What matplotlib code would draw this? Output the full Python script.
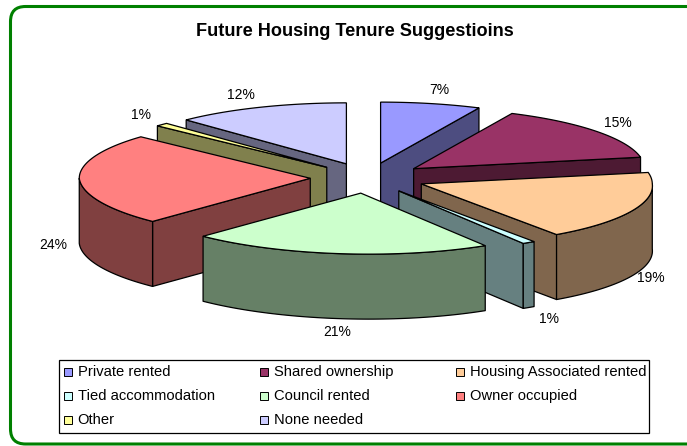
import numpy as np
import matplotlib
matplotlib.use("Agg")
import matplotlib.pyplot as plt
from matplotlib.patches import FancyBboxPatch, Rectangle

plt.rcParams['font.family'] = ['Liberation Sans', 'DejaVu Sans']

# Data (percent shares, labels round them)
categories = ['Private rented', 'Shared ownership', 'Housing Associated rented',
              'Tied accommodation', 'Council rented', 'Owner occupied',
              'Other', 'None needed']
shares = [7.0, 15.0, 18.6, 0.9, 21.0, 24.4, 0.9, 12.2]
colors = ['#9999FF', '#993366', '#FFCC99', '#CCFFFF',
          '#CCFFCC', '#FF8080', '#FFFF99', '#CCCCFF']

# Pie geometry in pixels
cx, cy = 368, 178
rx, ry = 231, 61
depth = 65
explode = 0.25
front_shift = 8   # the front of the ellipse sits a little to the right

# hand nudges for the percent labels
label_nudge_x = [2, -2, -14, 5, 2, 4, 1, -8]

fig = plt.figure(figsize=(6.87, 4.46), dpi=100)
ax = fig.add_axes([0, 0, 1, 1])
ax.set_xlim(0, 687)
ax.set_ylim(446, 0)
ax.axis('off')

# Green rounded frame, runs off the right edge
frame = FancyBboxPatch((10.5, 6.5), 720, 437.5, boxstyle='round,pad=0,rounding_size=15',
                       fc='white', ec='#008000', lw=2.2, zorder=0)
ax.add_patch(frame)


def arc(a, b, ox, oy):
    t = np.radians(np.linspace(a, b, 60))
    return ox + rx * np.sin(t) + front_shift * np.maximum(0, -np.cos(t)), oy - ry * np.cos(t)


def wall(xs, ys, color):
    # extrude a path on the top face straight down
    px = np.concatenate([xs, xs[::-1]])
    py = np.concatenate([ys, ys[::-1] + depth])
    ax.fill(px, py, fc=color, ec='black', lw=0.9, joinstyle='round', zorder=order)


edges = np.concatenate([[0], np.cumsum(shares)]) * 360 / np.sum(shares)
mids = (edges[:-1] + edges[1:]) / 2
draw_order = np.argsort(-np.cos(np.radians(mids)))

for order, i in enumerate(draw_order, start=1):
    a, b = edges[i], edges[i + 1]
    m = np.radians(mids[i])
    ox = cx + explode * rx * np.sin(m)
    oy = cy - explode * ry * np.cos(m)
    dark = np.array(matplotlib.colors.to_rgb(colors[i])) * 0.5
    sx, sy = arc(a, a, ox, oy)
    ex, ey = arc(b, b, ox, oy)
    # radial walls that face the viewer
    if np.sin(np.radians(a)) < -1e-6:
        wall(np.array([ox, sx[0]]), np.array([oy, sy[0]]), dark)
    if np.sin(np.radians(b)) > 1e-6:
        wall(np.array([ox, ex[0]]), np.array([oy, ey[0]]), dark)
    # outer wall, front half only
    lo, hi = max(a, 90), min(b, 270)
    if hi > lo:
        xs, ys = arc(lo, hi, ox, oy)
        wall(xs, ys, dark)
    # top face
    xs, ys = arc(a, b, ox, oy)
    ax.fill(np.r_[ox, xs], np.r_[oy, ys], fc=colors[i], ec='black', lw=0.9, zorder=order)

# Percent labels outside the slices
for i, v in enumerate(shares):
    m = np.radians(mids[i])
    lx = cx + 1.38 * rx * np.sin(m) + 7 * max(0, -np.cos(m)) + label_nudge_x[i]
    ly = cy - 1.47 * ry * np.cos(m)
    if np.cos(m) < 0:
        ly += depth
    ax.text(lx, ly, f'{v:.0f}%', ha='center', va='center', fontsize=10, color='black', zorder=20)

ax.text(355, 32, 'Future Housing Tenure Suggestioins', ha='center', va='center',
        fontsize=13.1, fontweight='bold', zorder=20)

# Legend box, drawn by hand because its columns are evenly spaced
ax.add_patch(Rectangle((59, 360), 589.5, 73, fc='white', ec='black', lw=0.9, zorder=30))
for i, (name, col) in enumerate(zip(categories, colors)):
    row, c = divmod(i, 3)
    lx = 63.5 + c * 196
    ly = 372 + row * 24
    ax.add_patch(Rectangle((lx, ly - 4), 8, 8, fc=col, ec='black', lw=0.7, zorder=31))
    ax.text(lx + 14, ly, name, ha='left', va='center', fontsize=10.6, zorder=31)

fig.savefig('out.png', dpi=100)
